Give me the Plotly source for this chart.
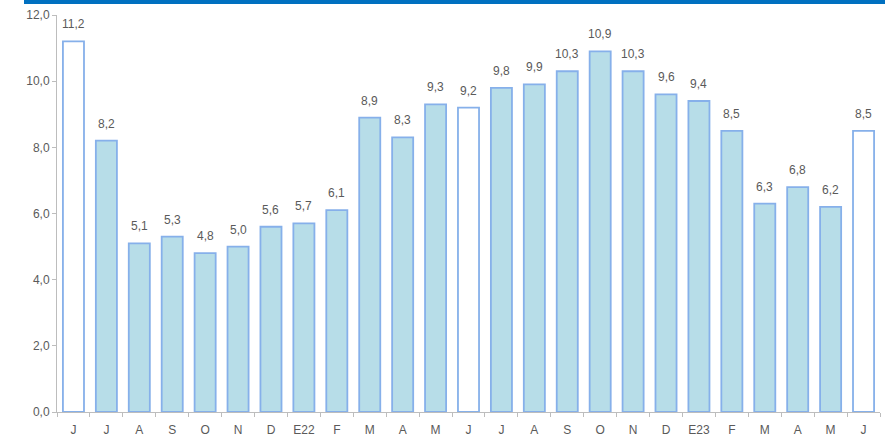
import plotly.graph_objects as go

months = ["J", "J", "A", "S", "O", "N", "D", "E22", "F", "M", "A", "M", "J",
          "J", "A", "S", "O", "N", "D", "E23", "F", "M", "A", "M", "J"]
values = [11.2, 8.2, 5.1, 5.3, 4.8, 5.0, 5.6, 5.7, 6.1, 8.9, 8.3, 9.3, 9.2,
          9.8, 9.9, 10.3, 10.9, 10.3, 9.6, 9.4, 8.5, 6.3, 6.8, 6.2, 8.5]
highlight = [0, 12, 24]  # white bars (June)

x = list(range(len(months)))
fills = ["#ffffff" if i in highlight else "#b7dde8" for i in x]
labels = [f"{v:.1f}".replace(".", ",") for v in values]

FONT = "Liberation Sans Narrow, Arial Narrow, Liberation Sans, Arial, sans-serif"
GRAY = "#5a5a5a"

fig = go.Figure()
fig.add_trace(go.Bar(
    x=x, y=values, width=0.64,
    marker=dict(color=fills, line=dict(color="#86b0ea", width=1.8)),
    hoverinfo="skip",
))

annotations = [
    dict(x=xi, y=v, text=t, showarrow=False, xref="x", yref="y",
         yanchor="bottom", yshift=8,
         font=dict(family=FONT, size=12, color=GRAY))
    for xi, v, t in zip(x, values, labels)
]

fig.update_layout(
    width=885, height=436,
    margin=dict(l=57, r=5, t=15, b=24),
    paper_bgcolor="white", plot_bgcolor="white",
    separators=",.",
    showlegend=False,
    font=dict(family=FONT, size=12, color=GRAY),
    annotations=annotations,
    xaxis=dict(
        range=[-0.5, len(months) - 0.5],
        tickmode="array", tickvals=x, ticktext=months,
        ticks="", showline=True, linecolor="#bdbdbd", linewidth=1,
        showgrid=False, zeroline=False, ticklabelstandoff=7, automargin=False,
        tickfont=dict(family=FONT, size=12, color=GRAY),
        minor=dict(tickmode="linear", tick0=-0.5, dtick=1, ticks="outside",
                   ticklen=4, tickcolor="#bdbdbd", showgrid=False),
    ),
    yaxis=dict(
        range=[0, 12], tickmode="linear", tick0=0, dtick=2, tickformat=".1f",
        ticks="outside", ticklen=4, tickcolor="#bdbdbd",
        showline=True, linecolor="#bdbdbd", linewidth=1,
        showgrid=False, zeroline=False, automargin=False,
        tickfont=dict(family=FONT, size=12, color=GRAY),
    ),
    shapes=[dict(type="rect", xref="paper", yref="paper",
                 x0=(24 - 57) / 823, x1=1.01, y0=(412 - 4) / 397, y1=412 / 397 + 0.01,
                 fillcolor="#0070c0", line=dict(width=0), layer="above")],
)

fig.write_html("out.html", config={"displayModeBar": False},
               post_script="document.body.style.margin='0';")
